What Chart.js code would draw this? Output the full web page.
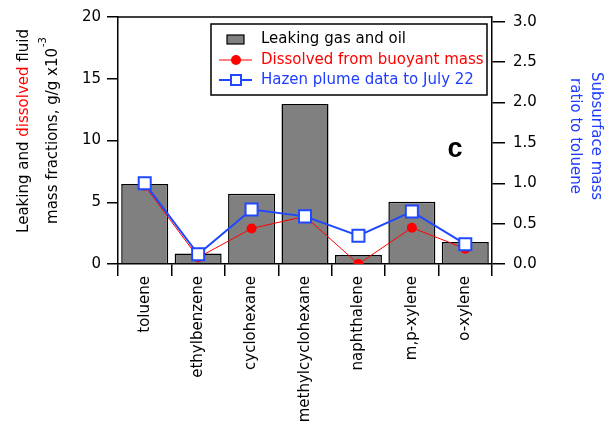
<!DOCTYPE html>
<html>
<head>
<meta charset="utf-8">
<script src="https://cdn.jsdelivr.net/npm/chart.js@4.4.1/dist/chart.umd.min.js"></script>
<style>
  html, body { margin:0; padding:0; background:#fff; }
  #wrap { width:610px; height:434px; }
</style>
</head>
<body>
<div id="wrap"><canvas id="chart" width="610" height="434"></canvas></div>
<script>
const compounds = ["toluene","ethylbenzene","cyclohexane","methylcyclohexane","naphthalene","m,p-xylene","o-xylene"];
const leaking   = [6.48, 0.86, 5.68, 12.96, 0.72, 5.04, 1.79];   // g/g x10^-3
const dissolved = [0.97, 0.08, 0.44, 0.59, 0.0, 0.45, 0.19];     // ratio to toluene
const hazen     = [1.0, 0.12, 0.675, 0.59, 0.35, 0.65, 0.245];   // ratio to toluene
const leftTicks  = [0, 5, 10, 15, 20];
const rightTicks = [0, 0.5, 1.0, 1.5, 2.0, 2.5, 3.0];

const FONT = "DejaVu Sans";
const RED = "#ff0000";
const BLUE = "#1f48ff";
const BLUE_TXT = "#1f3cff";

// legend, frame, panel letter and the two axis titles
const extras = {
  id: "extras",
  afterDraw(chart){
    const ctx = chart.ctx, a = chart.chartArea;
    ctx.save();
    // top of the frame
    ctx.strokeStyle = "#000"; ctx.lineWidth = 1.5;
    ctx.beginPath(); ctx.moveTo(a.left, a.top); ctx.lineTo(a.right, a.top); ctx.stroke();

    // legend box
    ctx.fillStyle = "#fff";
    ctx.fillRect(211, 24, 276, 71);
    ctx.strokeRect(211, 24, 276, 71);
    ctx.font = "15px " + FONT;
    ctx.textBaseline = "middle";
    // bars
    ctx.fillStyle = "#808080"; ctx.fillRect(227, 35, 17, 9);
    ctx.lineWidth = 1.2; ctx.strokeRect(227, 35, 17, 9);
    ctx.fillStyle = "#000"; ctx.fillText("Leaking gas and oil", 261, 39);
    // dissolved
    ctx.strokeStyle = RED; ctx.lineWidth = 1;
    ctx.beginPath(); ctx.moveTo(219, 60); ctx.lineTo(252, 60); ctx.stroke();
    ctx.fillStyle = RED;
    ctx.beginPath(); ctx.arc(236, 60, 5, 0, Math.PI*2); ctx.fill();
    ctx.fillText("Dissolved from buoyant mass", 261, 60);
    // hazen
    ctx.strokeStyle = BLUE; ctx.lineWidth = 2;
    ctx.beginPath(); ctx.moveTo(219, 80); ctx.lineTo(252, 80); ctx.stroke();
    ctx.fillStyle = "#fff"; ctx.fillRect(231, 75, 10, 10);
    ctx.strokeRect(231, 75, 10, 10);
    ctx.fillStyle = BLUE_TXT; ctx.fillText("Hazen plume data to July 22", 261, 80);

    // panel letter
    ctx.fillStyle = "#000";
    ctx.font = "bold 27px 'Liberation Sans'";
    ctx.textAlign = "center"; ctx.textBaseline = "alphabetic";
    ctx.fillText("c", 455, 157);

    // left title, two lines, "dissolved" in red
    ctx.save();
    ctx.translate(24, 131);
    ctx.rotate(-Math.PI/2);
    ctx.font = "15px " + FONT;
    ctx.textAlign = "left"; ctx.textBaseline = "middle";
    const parts = [["Leaking and ", "#000"], ["dissolved", RED], [" fluid", "#000"]];
    let w = parts.reduce((s,p)=>s+ctx.measureText(p[0]).width, 0);
    let x = -w/2;
    parts.forEach(p=>{ ctx.fillStyle = p[1]; ctx.fillText(p[0], x, 0); x += ctx.measureText(p[0]).width; });
    const main = "mass fractions, g/g x10";
    ctx.font = "15px " + FONT;
    const mw = ctx.measureText(main).width;
    ctx.font = "10px " + FONT;
    const sw = ctx.measureText("-3").width;
    x = -(mw+sw)/2;
    ctx.fillStyle = "#000";
    ctx.font = "15px " + FONT;
    ctx.fillText(main, x, 29);
    ctx.font = "10px " + FONT;
    ctx.fillText("-3", x+mw+1, 19);
    ctx.restore();

    // right title
    ctx.save();
    ctx.translate(596, 136);
    ctx.rotate(Math.PI/2);
    ctx.font = "15px " + FONT;
    ctx.textAlign = "center"; ctx.textBaseline = "middle";
    ctx.fillStyle = BLUE_TXT;
    ctx.fillText("Subsurface mass", 0, 0);
    ctx.fillText("ratio to toluene", 0, 21);
    ctx.restore();

    ctx.restore();
  }
};

new Chart(document.getElementById("chart"), {
  type: "bar",
  data: {
    labels: compounds,
    datasets: [
      { label:"Hazen plume data to July 22", type:"line", data:hazen, yAxisID:"y1", order:1,
        borderColor:BLUE, borderWidth:2, pointStyle:"rect", pointRadius:8.5,
        pointBackgroundColor:"#fff", pointBorderColor:BLUE, pointBorderWidth:2, tension:0 },
      { label:"Dissolved from buoyant mass", type:"line", data:dissolved, yAxisID:"y1", order:2,
        borderColor:RED, borderWidth:1, pointStyle:"circle", pointRadius:5,
        pointBackgroundColor:RED, pointBorderColor:RED, pointBorderWidth:0, tension:0 },
      { label:"Leaking gas and oil", data:leaking, yAxisID:"y", order:3,
        backgroundColor:"#808080", borderColor:"#000", borderWidth:1.5,
        categoryPercentage:1, barPercentage:0.88 }
    ]
  },
  options: {
    responsive:false,
    animation:false,
    layout:{ padding:{ top:15, left:0, right:0, bottom:0 } },
    plugins:{ legend:{ display:false }, tooltip:{ enabled:false } },
    scales:{
      x:{
        grid:{ offset:true, drawOnChartArea:false, tickLength:12, color:"#000", lineWidth:1.5 },
        border:{ color:"#000", width:1.5 },
        ticks:{ minRotation:90, maxRotation:90, autoSkip:false, padding:0, color:"#000",
                font:{ family:FONT, size:15 } },
        afterFit(s){ s.height = 170; }
      },
      y:{
        position:"left", min:0, max:20,
        grid:{ drawOnChartArea:false, tickLength:11, color:"#000", lineWidth:1.5 },
        border:{ color:"#000", width:1.5 },
        afterBuildTicks(s){ s.ticks = leftTicks.map(v=>({value:v})); },
        ticks:{ padding:6, color:"#000", font:{ family:FONT, size:15 } },
        afterFit(s){ s.width = 118; }
      },
      y1:{
        position:"right", min:0, max:3.06,
        grid:{ drawOnChartArea:false, tickLength:13, color:"#000", lineWidth:1.5 },
        border:{ color:"#000", width:1.5 },
        afterBuildTicks(s){ s.ticks = rightTicks.map(v=>({value:v})); },
        ticks:{ padding:8, color:"#000", font:{ family:FONT, size:15 },
                callback:v=>Number(v).toFixed(1) },
        afterFit(s){ s.width = 118; }
      }
    }
  },
  plugins:[extras]
});
</script>
</body>
</html>
